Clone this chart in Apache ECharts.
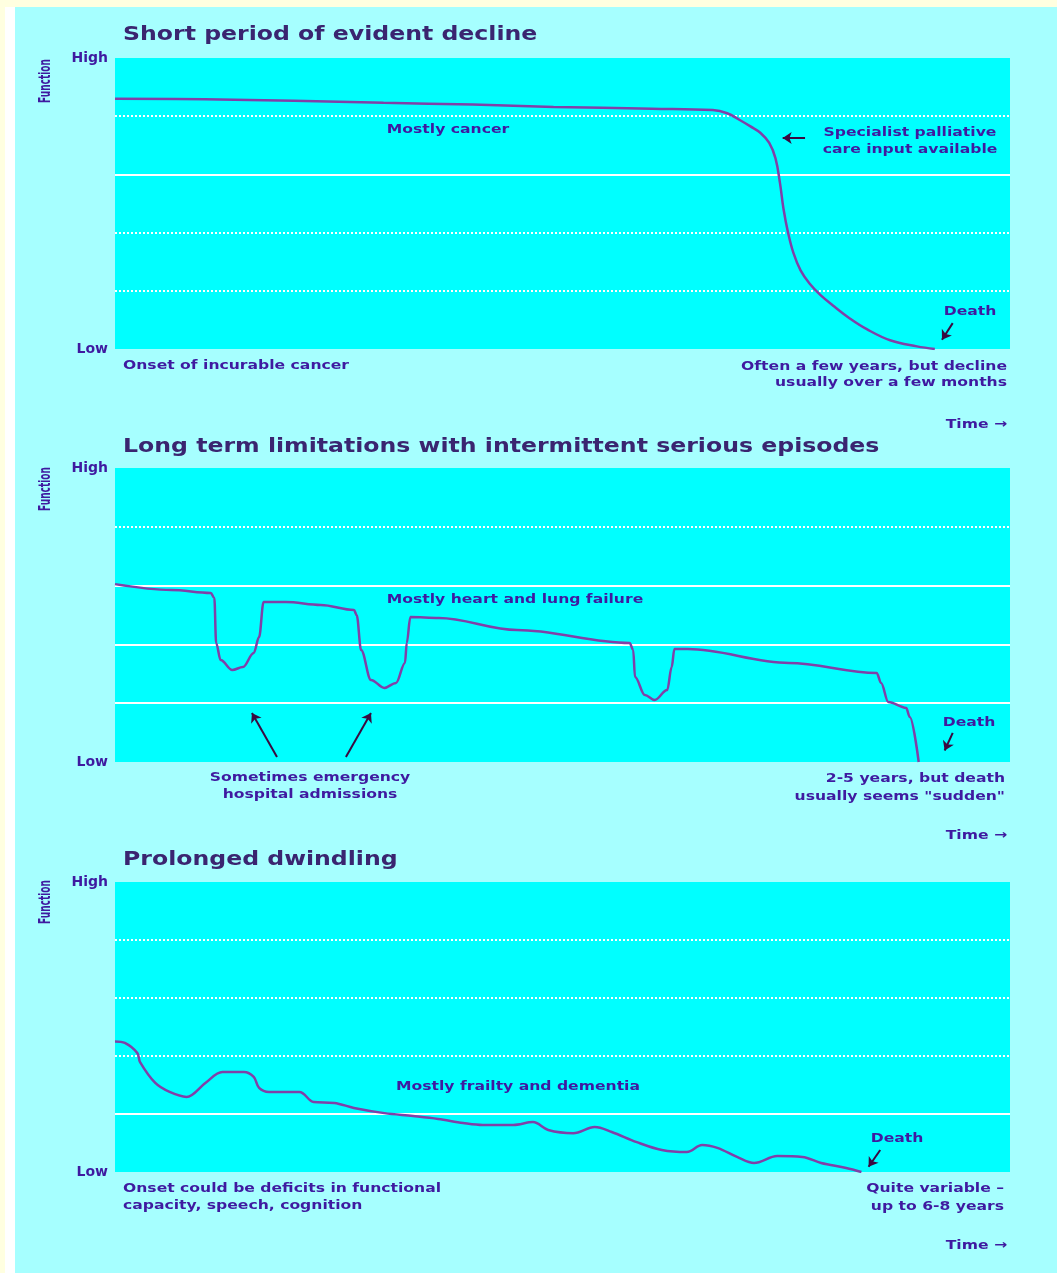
<!DOCTYPE html>
<html>
<head>
<meta charset="utf-8">
<script src="https://cdn.jsdelivr.net/npm/echarts@6/dist/echarts.min.js"></script>
<style>
  html, body { margin: 0; padding: 0; background: #ffffe0; width: 1057px; height: 1273px; overflow: hidden; }
  #white { position: absolute; left: 5px; top: 7px; width: 10px; bottom: 0; background: #ffffff; }
  #dither { position: absolute; left: 15px; top: 7px; right: 0; bottom: 0; background: #a6ffff; }
  #chart { position: absolute; left: 0; top: 0; width: 1057px; height: 1273px; }
</style>
</head>
<body>
<div id="white"></div>
<div id="dither"></div>
<div id="chart"></div>
<script>
// ---------- data (x: time 0-100, y: function Low=0 .. High=100) ----------
const titles = ['Short period of evident decline',
                'Long term limitations with intermittent serious episodes',
                'Prolonged dwindling'];
const yTickValues = [0, 20, 40, 60, 80, 100];
const yTickNames = { 0: 'Low', 100: 'High' };

const cancerDecline = [[0,86],[10,85.8],[20,85.3],[30,84.6],[40,84],[49,83.2],[60,82.6],[66.8,82.1],
  [68.4,81],[69.8,78.7],[71,76.5],[72.1,74.3],[73.1,70.8],[73.8,65.5],[74.3,57],[74.7,48],[75.2,40],
  [75.8,33],[76.6,27],[77.6,22.5],[78.8,18.6],[80.4,14.5],[82.1,10.5],[84,6.8],[86.6,3],[89.6,0.9],[91.6,0]];

const organFailure = [[0,60.5],[6.3,58.5],[10.7,57.5],[11.1,55.8],[11.3,40.5],[11.8,34.7],[13.1,31.3],
  [14.3,32.3],[15.5,37.1],[16.1,42.5],[16.6,54.4],[19.1,54.4],[23,53.4],[26.7,51.7],[27,50],[27.5,38.1],
  [28.6,27.9],[30.1,25.2],[31.4,26.9],[32.4,33.7],[32.6,40.5],[33,49.3],[36.2,49],[44.9,44.9],[57.5,40.5],
  [57.9,38.1],[58.1,28.9],[59.2,22.8],[60.3,21.1],[61.7,24.5],[62.2,32.3],[62.5,38.4],[64,38.4],[75.3,33.7],
  [85.1,30.3],[85.6,26.9],[86.4,20.4],[88.4,18.4],[88.8,15.3],[89.8,0]];

const frailty = [[0,45],[1.1,44.5],[2.5,41],[2.8,37.9],[4.5,30.7],[6.1,27.6],[8,25.9],[10.1,30.7],[12,34.5],
  [14.4,34.5],[15.5,32.8],[16.1,29],[17.2,27.6],[20.6,27.6],[22.2,24.1],[24.5,23.8],[26.7,22.1],[30.1,20.3],
  [33.3,19.3],[36.1,18.3],[38.9,16.9],[41.1,16.2],[44.5,16.2],[46.7,17.2],[48.4,14.5],[51.2,13.4],[53.6,15.5],
  [55.5,13.8],[58.3,10.3],[61.1,7.6],[63.9,6.9],[65.6,9.3],[67.3,8.3],[69.5,5.2],[71.4,3.1],[74,5.5],
  [76.8,5.2],[78.9,3.1],[81.7,1.4],[83.4,0]];

// gridline values and their dash style per panel
const gridValues = [80, 60, 40, 20];
const gridDash = [['dotted','solid','dotted','dotted'],
                  ['dotted','solid','solid','solid'],
                  ['dotted','dotted','dotted','solid']];

// annotation arrows in data coordinates [from, to]
const arrows = [
  [ [[77.1,72.5],[74.6,72.5]], [[93.6,8.9],[92.4,3.2]] ],
  [ [[18.1,1.7],[15.3,16.7]], [[25.8,1.7],[28.6,16.7]], [[93.6,9.9],[92.7,3.9]] ],
  [ [[85.5,7.6],[84.2,1.8]] ]
];
const seriesData = [cancerDecline, organFailure, frailty];
const smoothing = [{ smooth: 0.4 }, { smooth: 0.35, smoothMonotone: 'x' }, { smooth: 0.35 }];

// ---------- layout ----------
const grids = [
  { left: 115, right: 47, top: 58, height: 291 },
  { left: 115, right: 47, top: 468, height: 294 },
  { left: 115, right: 47, top: 882, height: 290 }
];
const FONT = '"DejaVu Sans", Verdana, sans-serif';
const TXT = '#3f1aa0';
const TITLE = '#3a2570';
const LINE = '#8040a8';

function txt(x, y, s, opt) {
  opt = opt || {};
  const align = opt.align || 'left';
  return {
    type: 'text', x: x, y: y, scaleX: opt.sx || 1.2, rotation: opt.rot || 0, silent: true, z: 50,
    style: {
      text: s, fill: opt.color || TXT,
      font: (opt.weight || 'bold') + ' ' + (opt.size || 13) + 'px ' + FONT,
      align: align, textAlign: align, verticalAlign: 'middle', textVerticalAlign: 'middle'
    }
  };
}

const texts = [
  // panel 1
  txt(123, 35, titles[0], { size: 20, sx: 1.18, color: TITLE }),
  txt(448, 130, 'Mostly cancer', { align: 'center' }),
  txt(910, 133, 'Specialist palliative', { align: 'center' }),
  txt(910, 150, 'care input available', { align: 'center' }),
  txt(970, 312, 'Death', { align: 'center' }),
  txt(123, 366, 'Onset of incurable cancer'),
  txt(1007, 367, 'Often a few years, but decline', { align: 'right' }),
  txt(1007, 383, 'usually over a few months', { align: 'right' }),
  txt(1007, 425, 'Time \u2192', { align: 'right' }),
  // panel 2
  txt(123, 447, titles[1], { size: 20, sx: 1.18, color: TITLE }),
  txt(515, 600, 'Mostly heart and lung failure', { align: 'center' }),
  txt(310, 778, 'Sometimes emergency', { align: 'center' }),
  txt(310, 795, 'hospital admissions', { align: 'center' }),
  txt(969, 723, 'Death', { align: 'center' }),
  txt(1005, 779, '2-5 years, but death', { align: 'right' }),
  txt(1005, 797, 'usually seems "sudden"', { align: 'right' }),
  txt(1007, 836, 'Time \u2192', { align: 'right' }),
  // panel 3
  txt(123, 860, titles[2], { size: 20, sx: 1.18, color: TITLE }),
  txt(518, 1087, 'Mostly frailty and dementia', { align: 'center' }),
  txt(123, 1189, 'Onset could be deficits in functional'),
  txt(123, 1206, 'capacity, speech, cognition'),
  txt(897, 1139, 'Death', { align: 'center' }),
  txt(1004, 1189, 'Quite variable \u2013', { align: 'right' }),
  txt(1004, 1207, 'up to 6-8 years', { align: 'right' }),
  txt(1007, 1246, 'Time \u2192', { align: 'right' }),
  // vertical "Function" labels
  txt(46, 81, 'Function', { align: 'center', rot: Math.PI / 2, sx: 0.6, size: 15 }),
  txt(46, 489, 'Function', { align: 'center', rot: Math.PI / 2, sx: 0.6, size: 15 }),
  txt(46, 902, 'Function', { align: 'center', rot: Math.PI / 2, sx: 0.6, size: 15 })
];

const option = {
  animation: false,
  backgroundColor: 'transparent',
  grid: grids.map(g => Object.assign({ show: true, backgroundColor: '#00ffff', borderWidth: 0 }, g)),
  xAxis: grids.map((g, i) => ({ type: 'value', gridIndex: i, min: 0, max: 100, show: false })),
  yAxis: grids.map((g, i) => ({
    type: 'value', gridIndex: i, min: 0, max: 100, interval: 20,
    axisLine: { show: false }, axisTick: { show: false }, splitLine: { show: false },
    axisLabel: {
      margin: 7, color: TXT, fontWeight: 'bold', fontSize: 14, fontFamily: FONT,
      formatter: v => yTickNames[v] || ''
    }
  })),
  graphic: { elements: texts },
  series: []
};

seriesData.forEach((d, i) => {
  // gridlines (drawn beneath the curve)
  option.series.push({
    type: 'line', xAxisIndex: i, yAxisIndex: i, data: d, z: 1, silent: true,
    showSymbol: false, lineStyle: { opacity: 0 },
    markLine: {
      silent: true, symbol: 'none', label: { show: false },
      data: gridValues.map((v, k) => ({
        yAxis: v, lineStyle: { color: '#ffffff', width: 2, type: gridDash[i][k] }
      }))
    }
  });
  // the trajectory
  option.series.push(Object.assign({
    type: 'line', xAxisIndex: i, yAxisIndex: i, data: d, z: 5,
    showSymbol: false,
    lineStyle: { color: LINE, width: 2.5 },
    markLine: {
      silent: true, symbol: ['none', 'arrow'], symbolSize: 9, label: { show: false },
      lineStyle: { color: '#3a0a40', width: 2, type: 'solid' },
      data: arrows[i].map(a => [{ coord: a[0] }, { coord: a[1] }])
    }
  }, smoothing[i]));
});

const chart = echarts.init(document.getElementById('chart'), null, { renderer: 'canvas' });
chart.setOption(option);
</script>
</body>
</html>
